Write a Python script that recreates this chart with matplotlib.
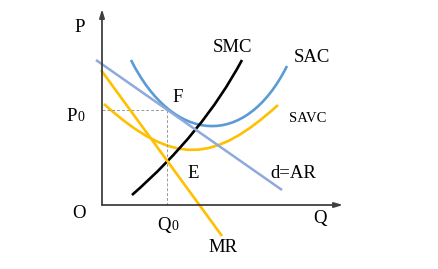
import matplotlib.pyplot as plt
from matplotlib.path import Path
from matplotlib.patches import PathPatch

plt.rcParams['font.family'] = ['Liberation Serif', 'DejaVu Serif']

# curves as Bezier control points (quantity, price)
smc_pts = [(30, 10), (101, 72), (140, 145)]
sac_pts = [(29, 145), (71, 61), (143, 55), (185, 139)]
savc_pts = [(2, 101), (72, 38), (112, 42), (176, 100)]
ar_pts = [(-6, 145), (180, 15)]
mr_pts = [(-1, 135), (120, -31)]
point_f = (65, 95)

labels = {
    'P': (-22, 177), 'SMC': (131, 158), 'SAC': (210, 147), 'F': (76, 107),
    'E': (91, 32), 'd=AR': (191, 32), 'O': (-23, -8), 'Q': (218, -13),
    'MR': (121, -43),
}

fig = plt.figure(figsize=(4.38, 2.69), dpi=100)
ax = fig.add_axes([0, 0, 1, 1])
ax.set_xlim(-102, 336)
ax.set_ylim(-64, 205)
ax.axis('off')


def bezier(pts, color, lw):
    codes = [Path.MOVETO] + [Path.CURVE3 if len(pts) == 3 else Path.CURVE4] * (len(pts) - 1)
    ax.add_patch(PathPatch(Path(pts, codes), fill=False, edgecolor=color, lw=lw,
                           capstyle='butt'))


# axes with arrows
ax.annotate('', xy=(0, 196), xytext=(0, 0),
            arrowprops=dict(arrowstyle='-|>,head_length=0.5,head_width=0.15',
                            color='#404040', lw=1.3, shrinkA=0, shrinkB=0))
ax.annotate('', xy=(241, 0), xytext=(0, 0),
            arrowprops=dict(arrowstyle='-|>,head_length=0.5,head_width=0.15',
                            color='#404040', lw=1.3, shrinkA=0, shrinkB=0))

# dashed guides
ax.plot([0, point_f[0]], [point_f[1], point_f[1]], ls='--', color='#999999', lw=0.7, dashes=(3, 2))
ax.plot([point_f[0], point_f[0]], [point_f[1], 0], ls='--', color='#999999', lw=0.7, dashes=(3, 2))

ax.plot(*zip(*ar_pts), color='#8EA9DB', lw=1.8, solid_capstyle='butt')
ax.plot(*zip(*mr_pts), color='#FFC000', lw=1.9, solid_capstyle='butt')
bezier(savc_pts, '#FFC000', 1.9)
bezier(sac_pts, '#5B9BD5', 1.9)
bezier(smc_pts, 'black', 1.9)

for txt, (x, y) in labels.items():
    ax.text(x, y, txt, fontsize=13.5, ha='center', va='center')
ax.text(206, 87, 'SAVC', fontsize=10.5, ha='center', va='center')

# P0 and Q0 with small zero
ax.text(-30, 84, 'P', fontsize=13.5, ha='center', va='baseline')
ax.text(-21, 84, '0', fontsize=10, ha='center', va='baseline')
ax.text(62, -25, 'Q', fontsize=13.5, ha='center', va='baseline')
ax.text(72.5, -25, '0', fontsize=10, ha='center', va='baseline')

fig.savefig('out.png', dpi=100)
